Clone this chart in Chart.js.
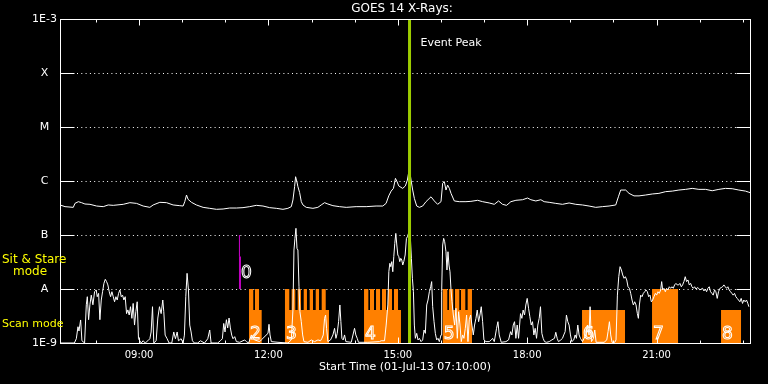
<!DOCTYPE html>
<html>
<head>
<meta charset="utf-8">
<title>GOES 14 X-Rays</title>
<script src="https://cdn.jsdelivr.net/npm/chart.js@4.4.1/dist/chart.umd.min.js"></script>
<style>
  html, body { margin: 0; padding: 0; background: #000; }
  canvas { display: block; }
</style>
</head>
<body>
<canvas id="goes" width="768" height="384"></canvas>
<script>
// Tiempos en minutos desde las 00:00 del 01-Jul-13, flujo en W/m^2
const xMin = 430;   // 07:10
const xMax = 1390;  // 23:10
const hourTicks = [480, 540, 600, 660, 720, 780, 840, 900, 960, 1020, 1080, 1140, 1200, 1260, 1320, 1380];
const xLabelTimes = [540, 720, 900, 1080, 1260];
const xLabelText = ['09:00', '12:00', '15:00', '18:00', '21:00'];
const yTickValues = [1e-9, 1e-8, 1e-7, 1e-6, 1e-5, 1e-4, 1e-3];
const yTickNames = ['1E-9', 'A', 'B', 'C', 'M', 'X', '1E-3'];

// Canal 1-8 A (curva de arriba)
const longTimes = [430, 437, 448.5, 450.8, 455.5, 460, 464.7, 471.7, 480.9, 490.2, 497.1, 504.1, 518, 527.2, 536.5,
  545.7, 555, 559.6, 568.9, 578.2, 587.4, 596.7, 601.3, 603.6, 606, 608.2, 612.9, 619.8, 629.1, 638.3, 647.6, 656.9,
  666.1, 675.4, 684.6, 693.9, 703.2, 712.4, 721.7, 730.9, 740.2, 747.1, 751.8, 754.1, 756.4, 757.8, 759.6, 761, 763.4,
  765.7, 768, 772.6, 781.9, 788.8, 793.4, 798.1, 802.7, 809.7, 818.9, 828.2, 842, 856, 869.8, 879.1, 883.7, 887.4,
  890.7, 893.9, 896.7, 899, 901.3, 906.8, 910.5, 913.3, 916.1, 918.4, 920.7, 923, 926.3, 930, 934.6, 939.2, 946.2,
  950.8, 955.4, 960.1, 962.4, 964.7, 967, 969.3, 971.7, 974, 978.6, 985.5, 994.8, 1001.7, 1011, 1018, 1027.2, 1034.2,
  1040.2, 1045.7, 1051.3, 1057.3, 1064.3, 1073.5, 1080.5, 1085.1, 1092, 1099, 1103.6, 1110.6, 1119.8, 1129.1, 1138.3,
  1147.6, 1156.9, 1166.1, 1175.4, 1184.6, 1193.9, 1203.2, 1206.9, 1210.1, 1217, 1221.7, 1228.6, 1235.6, 1244.8,
  1254.1, 1263.3, 1272.6, 1281.9, 1291.1, 1300.4, 1309.6, 1318.9, 1328.2, 1337.4, 1346.7, 1355.9, 1365.2, 1374.5,
  1383.7, 1388.3, 1390];
const longFlux = [3.6e-7, 3.35e-7, 3.25e-7, 3.85e-7, 4.14e-7, 3.97e-7, 3.75e-7, 3.7e-7, 3.44e-7, 3.35e-7, 3.6e-7, 3.54e-7,
  3.7e-7, 3.97e-7, 3.85e-7, 3.44e-7, 3.25e-7, 3.6e-7, 4.03e-7, 3.97e-7, 3.6e-7, 3.49e-7, 3.44e-7, 4.14e-7, 5.5e-7,
  4.57e-7, 4.03e-7, 3.6e-7, 3.25e-7, 3.12e-7, 2.99e-7, 3.03e-7, 3.16e-7, 3.16e-7, 3.21e-7, 3.35e-7, 3.54e-7, 3.44e-7,
  3.21e-7, 3.12e-7, 2.99e-7, 3.12e-7, 3.35e-7, 4.45e-7, 7.85e-7, 1.2e-6, 9.7e-7, 7.85e-7, 6.1e-7, 4.14e-7, 3.6e-7,
  3.25e-7, 3.12e-7, 3.25e-7, 3.6e-7, 3.97e-7, 3.75e-7, 3.49e-7, 3.35e-7, 3.25e-7, 3.35e-7, 3.35e-7, 3.44e-7, 3.44e-7,
  3.85e-7, 5.3e-7, 6.5e-7, 7.3e-7, 1.12e-6, 9.7e-7, 8.1e-7, 7.3e-7, 8.1e-7, 1.04e-6, 1.72e-6, 1.04e-6, 6.8e-7, 4.77e-7,
  3.44e-7, 3.25e-7, 3.44e-7, 4.14e-7, 5.1e-7, 4.27e-7, 3.7e-7, 4.14e-7, 9.1e-7, 9.7e-7, 6.8e-7, 8.4e-7, 7.3e-7, 5.9e-7,
  4.27e-7, 4.14e-7, 4.14e-7, 4.2e-7, 4.39e-7, 4.14e-7, 3.92e-7, 3.7e-7, 4.27e-7, 3.7e-7, 3.54e-7, 4.14e-7, 4.39e-7,
  4.5e-7, 4.84e-7, 4.5e-7, 4.27e-7, 4.5e-7, 4.14e-7, 4.03e-7, 3.85e-7, 3.7e-7, 3.92e-7, 3.7e-7, 3.6e-7, 3.44e-7,
  3.25e-7, 3.35e-7, 3.44e-7, 3.6e-7, 5.1e-7, 6.8e-7, 6.8e-7, 5.9e-7, 5.3e-7, 5.3e-7, 5.5e-7, 5.75e-7, 5.9e-7, 6.35e-7,
  6.5e-7, 6.8e-7, 7.0e-7, 7.3e-7, 7.0e-7, 7.0e-7, 6.6e-7, 7.0e-7, 7.3e-7, 7.2e-7, 6.8e-7, 6.5e-7, 6.2e-7, 6.1e-7];

// Canal 0.5-4 A (curva de abajo)
const shortTimes = [430, 450, 452.7, 455, 456.4, 458.7, 460.5, 464.2, 466.6, 468, 469.8, 471.6, 473.5, 475.8, 478.1,
  480.4, 481.8, 483.7, 485.5, 487.4, 489.2, 491.1, 493, 494.8, 496.6, 498.5, 500.4, 502.2, 504.1, 505.9, 507.8, 509.6,
  511.5, 513.3, 515.2, 517, 518.9, 520.7, 522.6, 524.4, 526.3, 528.1, 530, 531.8, 533.7, 535.5, 537.4, 539.2, 543,
  545.7, 548.5, 552.2, 555, 556.8, 558.7, 560.5, 563.8, 566.1, 568.4, 570.7, 573, 574.4, 576.3, 579, 581.8, 585.5,
  588.3, 590.6, 593, 594.8, 598.5, 601.3, 603.1, 605, 606.8, 608.7, 610.5, 612.4, 614.2, 617, 621.6, 625.4, 631, 635.6,
  638.3, 640.2, 649.4, 653.1, 655.9, 657.8, 659.6, 661.5, 663.3, 665.2, 667, 668.9, 670.7, 673.1, 675.4, 680, 687,
  689.3, 692.5, 696.2, 698.6, 700.9, 707.8, 710.1, 719.4, 720.8, 722.2, 724, 733.3, 747.2, 751.8, 754.1, 755.5, 756.9,
  758.3, 759.7, 761, 762.5, 763.8, 765.7, 767.6, 769.4, 775, 779.6, 784.2, 788.9, 792.5, 794.4, 796.3, 798.1, 799.5,
  800.9, 802.7, 806.4, 809.7, 812, 813.9, 815.7, 817.6, 819.4, 820.8, 822.2, 824, 825.9, 827.7, 835.2, 839.8, 841.6,
  843.5, 845.3, 858.3, 874.5, 876.8, 881.5, 883.8, 886.1, 887.5, 888.9, 890.2, 891.6, 893, 894.4, 895.8, 897.2, 898.6,
  900, 901.4, 902.7, 904.1, 905.5, 906.9, 908.3, 910.2, 912, 913.4, 916, 917.5, 918.9, 920.3, 921.7, 923, 924.4, 926.3,
  928.1, 930, 932.3, 934.6, 936.5, 938.3, 940.2, 942, 943.9, 945.7, 947.1, 948.5, 950.4, 952.2, 954.1, 955.9, 957.8,
  960.1, 961, 962.4, 963.8, 965.2, 967, 968.4, 969.8, 971.2, 972.6, 974, 975.4, 977.2, 979.1, 980.9, 982.8, 984.6,
  986.5, 988.3, 990.2, 992, 993.9, 995.7, 997.6, 999.4, 1001.3, 1003.1, 1005, 1006.8, 1008.7, 1010.5, 1012.4, 1014.3,
  1016.1, 1018, 1019.8, 1022.6, 1027.2, 1030, 1031.9, 1034.2, 1037.4, 1039.3, 1041.1, 1043.9, 1050.4, 1054.1, 1056.9,
  1058.7, 1060.6, 1062.4, 1064.3, 1066.1, 1068, 1070.7, 1072.6, 1074.4, 1076.3, 1078.1, 1080, 1081.9, 1083.7, 1085.6,
  1087.4, 1089.3, 1091.1, 1093, 1094.8, 1096.7, 1098.5, 1100.4, 1102.2, 1104.1, 1106.9, 1110.6, 1114.3, 1118, 1119.8,
  1121.7, 1123.5, 1126.8, 1129.1, 1130.9, 1132.8, 1134.6, 1136.5, 1138.3, 1140.2, 1142, 1144.8, 1146.7, 1148.5, 1150.4,
  1152.2, 1154.1, 1156.9, 1161.5, 1163.8, 1166.1, 1167.5, 1169.4, 1172.2, 1174, 1175.9, 1180, 1187, 1190.7, 1192.5,
  1194.4, 1196.2, 1198.1, 1201.8, 1203.6, 1205.5, 1207.4, 1209.2, 1211.1, 1212.9, 1214.8, 1216.6, 1218.5, 1220.3,
  1222.2, 1224, 1225.9, 1227.7, 1229.6, 1231.4, 1233.3, 1234.7, 1236.1, 1237.9, 1239.8, 1241.6, 1243.5, 1245.3, 1247.2,
  1249, 1250.9, 1252.7, 1254.6, 1256.4, 1258.3, 1260.1, 1262, 1263.8, 1265.7, 1267.1, 1268.5, 1270.3, 1272.2, 1274,
  1275.9, 1277.7, 1279.6, 1281.4, 1283.3, 1285.1, 1287, 1288.8, 1290.7, 1292.5, 1294.4, 1296.2, 1298.1, 1299.9, 1301.8,
  1303.7, 1305.5, 1307.4, 1309.2, 1311.1, 1312.9, 1314.8, 1316.6, 1318.5, 1320.3, 1322.2, 1324, 1325.9, 1327.7, 1329.6,
  1331.4, 1333.3, 1335.1, 1337, 1338.8, 1340.7, 1342.5, 1344.4, 1346.2, 1348.1, 1349.9, 1351.8, 1353.7, 1355.5, 1357.4,
  1359.2, 1361.1, 1362.9, 1364.8, 1366.6, 1368.5, 1370.3, 1372.2, 1374, 1375.9, 1377.7, 1379.6, 1381.4, 1383.3, 1385.1,
  1387, 1388.4];
const shortFlux = [1.0e-9, 1.0e-9, 1.2e-9, 2.0e-9, 1.67e-9, 2.67e-9, 1.1e-9, 1.0e-9, 5.1e-9, 7.2e-9, 2.7e-9, 5.1e-9,
  7.7e-9, 5.1e-9, 8.9e-9, 9.6e-9, 7.2e-9, 8.3e-9, 2.7e-9, 6.25e-9, 8.9e-9, 1.27e-8, 1.51e-8, 1.37e-8, 1.19e-8, 8.9e-9,
  7.2e-9, 8.9e-9, 7.2e-9, 5.8e-9, 7.2e-9, 6.25e-9, 8.3e-9, 9.6e-9, 7.2e-9, 7.7e-9, 6.25e-9, 7.2e-9, 3.5e-9, 4.1e-9,
  3.3e-9, 4.7e-9, 2.86e-9, 5.4e-9, 2.15e-9, 3.8e-9, 5.8e-9, 1.2e-9, 1.0e-9, 1.1e-9, 1.0e-9, 1.1e-9, 1.2e-9, 1.6e-9,
  4.7e-9, 1.0e-9, 1.1e-9, 2.9e-9, 4.7e-9, 3.5e-9, 6.25e-9, 3.8e-9, 1.4e-9, 1.2e-9, 1.0e-9, 1.0e-9, 1.6e-9, 1.2e-9,
  1.6e-9, 1.1e-9, 1.2e-9, 1.0e-9, 1.4e-9, 7.2e-9, 1.95e-8, 9.6e-9, 2.15e-9, 1.6e-9, 1.1e-9, 1.0e-9, 1.0e-9, 1.1e-9,
  1.0e-9, 1.2e-9, 1.74e-9, 1.0e-9, 1.0e-9, 1.1e-9, 1.2e-9, 2.3e-9, 1.6e-9, 2.7e-9, 1.9e-9, 2.9e-9, 1.9e-9, 1.4e-9,
  1.2e-9, 1.31e-9, 1.06e-9, 1.03e-9, 1.14e-9, 1.06e-9, 1.0e-9, 1.41e-9, 1.22e-9, 1.14e-9, 1.06e-9, 1.14e-9, 1.51e-9,
  2.22e-9, 1.41e-9, 1.06e-9, 1.03e-9, 1.0e-9, 1.14e-9, 4.08e-9, 5.27e-8, 8.67e-8, 1.33e-7, 5.66e-8, 5.27e-8, 1.1e-8,
  3.8e-9, 2.48e-9, 1.41e-9, 1.06e-9, 1.03e-9, 1.14e-9, 1.06e-9, 1.14e-9, 1.1e-9, 1.22e-9, 1.41e-9, 2.86e-9, 3.3e-9,
  1.87e-9, 1.06e-9, 1.14e-9, 1.41e-9, 1.87e-9, 1.22e-9, 1.51e-9, 2.48e-9, 5.06e-9, 2.48e-9, 1.22e-9, 1.14e-9, 1.41e-9,
  1.06e-9, 1.03e-9, 1.87e-9, 1.41e-9, 1.22e-9, 1.03e-9, 1.03e-9, 1.06e-9, 1.1e-9, 1.1e-9, 2.15e-9, 5.06e-9, 2.09e-8,
  2.99e-8, 2.59e-8, 3.21e-8, 2.09e-8, 3.97e-8, 7.0e-8, 1.07e-7, 6.53e-8, 4.26e-8, 3.97e-8, 3.21e-8, 3.7e-8, 3.44e-8,
  2.78e-8, 3.21e-8, 4.26e-8, 8.67e-8, 9.31e-8, 1.2e-7, 8.67e-8, 3.7e-8, 1.58e-8, 8.9e-9, 2.15e-9, 1.22e-9, 1.51e-9,
  1.14e-9, 1.22e-9, 1.06e-9, 1.14e-9, 1.74e-9, 1.51e-9, 5.06e-9, 6.25e-9, 8.9e-9, 1.1e-8, 1.37e-8, 4.7e-9, 2.48e-9,
  1.51e-9, 1.14e-9, 1.22e-9, 1.06e-9, 1.41e-9, 8.9e-9, 6.53e-8, 8.67e-8, 7.5e-8, 4.9e-8, 2.25e-8, 4.9e-8, 2.78e-8,
  2.09e-8, 9.6e-9, 5.8e-9, 3.3e-9, 2.15e-9, 4.4e-9, 1.22e-9, 3.8e-9, 2.15e-9, 1.06e-9, 1.41e-9, 1.22e-9, 1.87e-9,
  3.3e-9, 1.06e-9, 2.7e-9, 3.3e-9, 2.15e-9, 1.41e-9, 2.15e-9, 2.86e-9, 4.08e-9, 2.48e-9, 3.3e-9, 4.7e-9, 2.48e-9,
  1.14e-9, 1.06e-9, 1.06e-9, 1.14e-9, 1.22e-9, 1.06e-9, 1.87e-9, 2.48e-9, 1.41e-9, 1.03e-9, 1.06e-9, 1.14e-9, 1.62e-9,
  1.41e-9, 2.15e-9, 2.48e-9, 1.22e-9, 2.15e-9, 1.22e-9, 3.5e-9, 2.86e-9, 4.08e-9, 3.3e-9, 5.06e-9, 6.7e-9, 4.4e-9,
  3.07e-9, 2.15e-9, 2.48e-9, 1.41e-9, 1.87e-9, 1.22e-9, 2.15e-9, 2.86e-9, 4.7e-9, 1.51e-9, 1.22e-9, 1.06e-9, 1.03e-9,
  1.06e-9, 1.14e-9, 1.22e-9, 1.58e-9, 1.22e-9, 1.06e-9, 1.14e-9, 1.22e-9, 1.41e-9, 1.62e-9, 3.3e-9, 2.48e-9, 2.15e-9,
  1.41e-9, 1.06e-9, 1.14e-9, 1.41e-9, 1.22e-9, 2.15e-9, 1.41e-9, 1.22e-9, 1.06e-9, 1.41e-9, 2.15e-9, 1.41e-9, 4.7e-9,
  1.06e-9, 1.22e-9, 1.74e-9, 1.03e-9, 1.03e-9, 1.03e-9, 1.14e-9, 1.62e-9, 2.48e-9, 1.41e-9, 1.03e-9, 1.03e-9, 1.14e-9,
  7.7e-9, 1.69e-8, 2.59e-8, 2.25e-8, 1.82e-8, 1.58e-8, 1.69e-8, 1.47e-8, 1.1e-8, 1.03e-8, 8.3e-9, 6.25e-9, 5.06e-9,
  5.8e-9, 5.06e-9, 3.5e-9, 2.86e-9, 5.06e-9, 7.7e-9, 7.2e-9, 8.3e-9, 8.9e-9, 9.6e-9, 8.9e-9, 7.2e-9, 7.7e-9, 5.8e-9,
  6.25e-9, 7.2e-9, 8.3e-9, 7.7e-9, 8.9e-9, 8.3e-9, 9.6e-9, 1.37e-8, 9.6e-9, 1.03e-8, 8.9e-9, 1.03e-8, 9.6e-9, 1.1e-8,
  1.03e-8, 1.1e-8, 1.03e-8, 1.19e-8, 1.27e-8, 1.19e-8, 1.19e-8, 1.27e-8, 1.1e-8, 1.19e-8, 1.37e-8, 1.69e-8, 1.37e-8,
  1.47e-8, 1.19e-8, 1.27e-8, 1.1e-8, 1.03e-8, 1.1e-8, 1.0e-8, 1.06e-8, 1.03e-8, 9.6e-9, 1.0e-8, 1.03e-8, 9.2e-9,
  1.0e-8, 8.9e-9, 1.03e-8, 1.1e-8, 8.9e-9, 8.3e-9, 7.7e-9, 9.6e-9, 8.9e-9, 6.7e-9, 8.9e-9, 1.03e-8, 1.06e-8, 1.1e-8,
  1.19e-8, 1.1e-8, 1.03e-8, 1.1e-8, 9.6e-9, 8.9e-9, 8.3e-9, 7.7e-9, 8.3e-9, 7.2e-9, 6.7e-9, 6.25e-9, 5.8e-9, 6.7e-9,
  5.4e-9, 6.25e-9, 5.8e-9, 6.25e-9, 5.4e-9, 4.7e-9];

// Modo de observacion (barras naranjas): nivel alto = Sit & Stare, medio = scan
const scanTimes = [430, 693, 698.9, 701.3, 706.9, 710.6, 743, 749, 752.3, 757.4, 760.7, 765.3, 769.1, 773.6, 777.4,
  782, 785.8, 790.4, 794.1, 799.7, 804.3, 853, 859, 861.3, 866.9, 869.7, 875.3, 878, 883.6, 886.4, 891.9, 894.7, 900.3,
  904.4, 962.5, 968.9, 971.2, 977.2, 979.6, 985.5, 987.9, 993.9, 997.2, 1003.2, 1156.3, 1216.1, 1253.7, 1289.9,
  1349.7, 1377.5, 1390];
const scanLevels = [1e-9, 1e-8, 4.1e-9, 1e-8, 4.1e-9, 1e-9, 1e-8, 4.1e-9, 1e-8, 4.1e-9, 1e-8, 4.1e-9, 1e-8, 4.1e-9,
  1e-8, 4.1e-9, 1e-8, 4.1e-9, 1e-8, 4.1e-9, 1e-9, 1e-8, 4.1e-9, 1e-8, 4.1e-9, 1e-8, 4.1e-9, 1e-8, 4.1e-9, 1e-8, 4.1e-9,
  1e-8, 4.1e-9, 1e-9, 1e-8, 4.1e-9, 1e-8, 4.1e-9, 1e-8, 4.1e-9, 1e-8, 4.1e-9, 1e-8, 1e-9, 4.1e-9, 1e-9, 1e-8, 1e-9,
  4.1e-9, 1e-9, 1e-9];
const blockStarts = [693, 743, 853, 962.5, 1156.3, 1253.7, 1349.7];
const blockNames = ['2', '3', '4', '5', '6', '7', '8'];

const eventTime = 916.3;   // Event Peak
const stareThinTime = 679.7;
const stareThickTime = 680.4;
const stareThin = [1e-7, 4e-8];
const stareThick = [4e-8, 1e-8];

const pts = (ts, vs) => ts.map((t, i) => ({ x: t, y: vs[i] }));

const decor = {
  id: 'decor',
  beforeDatasetsDraw(chart) {
    const { ctx, chartArea: a, scales: { y } } = chart;
    ctx.save();
    ctx.strokeStyle = '#ffffff';
    ctx.lineWidth = 1;
    ctx.setLineDash([1, 3.3]);
    yTickValues.slice(1, -1).forEach(v => {
      const py = Math.round(y.getPixelForValue(v)) + 0.5;
      ctx.beginPath();
      ctx.moveTo(a.left + 17, py);
      ctx.lineTo(a.right - 14, py);
      ctx.stroke();
    });
    ctx.restore();
  },
  afterDatasetsDraw(chart) {
    const { ctx, chartArea: a, scales: { x, y } } = chart;
    const L = Math.round(a.left) + 0.5, R = Math.round(a.right) + 0.5;
    const T = Math.round(a.top) + 0.5, B = Math.round(a.bottom) + 0.5;
    ctx.save();
    ctx.strokeStyle = '#ffffff';
    ctx.lineWidth = 1;
    ctx.strokeRect(L, T, R - L, B - T);
    ctx.beginPath();
    yTickValues.forEach(v => {
      const py = Math.round(y.getPixelForValue(v)) + 0.5;
      ctx.moveTo(L, py); ctx.lineTo(L + 14, py);
      ctx.moveTo(R - 14, py); ctx.lineTo(R, py);
    });
    hourTicks.forEach(m => {
      const px = Math.round(x.getPixelForValue(m)) + 0.5;
      const len = xLabelTimes.includes(m) ? 6 : 3;
      ctx.moveTo(px, T); ctx.lineTo(px, T + len);
      ctx.moveTo(px, B); ctx.lineTo(px, B - len);
    });
    ctx.stroke();

    // titulo
    ctx.fillStyle = '#ffffff';
    ctx.textBaseline = 'middle';
    ctx.textAlign = 'center';
    ctx.font = '12px "DejaVu Sans"';
    ctx.fillText('GOES 14 X-Rays:', (a.left + a.right) / 2 - 3, 9);

    ctx.textAlign = 'left';
    ctx.font = '11px "DejaVu Sans"';
    ctx.fillText('Event Peak', x.getPixelForValue(eventTime) + 11, a.top + 24);

    // textos amarillos
    ctx.fillStyle = '#ffff00';
    ctx.textBaseline = 'alphabetic';
    ctx.font = '12px "DejaVu Sans"';
    ctx.fillText('Sit & Stare', 2, 263);
    ctx.fillText('mode', 13, 275);
    ctx.font = '11px "DejaVu Sans"';
    ctx.fillText('Scan mode', 2, 327);

    // numeros de los bloques
    ctx.strokeStyle = '#ffffff';
    ctx.font = '17px "DejaVu Sans"';
    blockStarts.forEach((t, i) => {
      ctx.strokeText(blockNames[i], x.getPixelForValue(t) + 1, a.bottom - 4);
    });
    ctx.strokeText('0', x.getPixelForValue(stareThickTime) + 1, y.getPixelForValue(1e-8) - 11);
    ctx.restore();
  }
};

new Chart(document.getElementById('goes'), {
  type: 'line',
  data: {
    datasets: [
      {
        data: pts(scanTimes, scanLevels),
        stepped: 'before',
        borderWidth: 0,
        borderColor: 'rgba(0,0,0,0)',
        backgroundColor: '#ff8000',
        fill: 'start',
        order: 5
      },
      { data: pts(longTimes, longFlux), borderColor: '#ffffff', borderWidth: 1, order: 2 },
      { data: pts(shortTimes, shortFlux), borderColor: '#ffffff', borderWidth: 1, order: 2 },
      { data: pts([stareThinTime, stareThinTime], stareThin), borderColor: '#c000c0', borderWidth: 1, order: 1 },
      { data: pts([stareThickTime, stareThickTime], stareThick), borderColor: '#c000c0', borderWidth: 2, order: 1 },
      { data: pts([eventTime, eventTime], [1e-9, 1e-3]), borderColor: '#9ccc00', borderWidth: 3, order: 0 }
    ]
  },
  options: {
    responsive: false,
    animation: false,
    devicePixelRatio: 1,
    events: [],
    layout: { padding: { top: 19, right: 18, left: 0, bottom: 0 } },
    elements: { point: { radius: 0 }, line: { tension: 0 } },
    plugins: {
      legend: { display: false },
      tooltip: { enabled: false },
      title: { display: false }
    },
    scales: {
      x: {
        type: 'linear',
        min: xMin,
        max: xMax,
        grid: { display: false, drawTicks: false },
        border: { display: false },
        afterBuildTicks: s => { s.ticks = hourTicks.map(v => ({ value: v })); },
        ticks: {
          color: '#ffffff',
          font: { family: 'DejaVu Sans', size: 10 },
          padding: 6,
          maxRotation: 0,
          autoSkip: false,
          callback: v => {
            const i = xLabelTimes.indexOf(v);
            return i >= 0 ? xLabelText[i] : '';
          }
        },
        title: {
          display: true,
          text: 'Start Time (01-Jul-13 07:10:00)',
          color: '#ffffff',
          font: { family: 'DejaVu Sans', size: 11 },
          padding: { top: 0, bottom: 10 }
        },
        afterFit: s => { s.height = 41; }
      },
      y: {
        type: 'logarithmic',
        min: 1e-9,
        max: 1e-3,
        grid: { display: false, drawTicks: false },
        border: { display: false },
        afterBuildTicks: s => { s.ticks = yTickValues.map(v => ({ value: v })); },
        ticks: {
          color: '#ffffff',
          font: { family: 'DejaVu Sans', size: 11 },
          padding: 3,
          crossAlign: 'center',
          autoSkip: false,
          callback: (v, i) => yTickNames[i]
        },
        afterFit: s => { s.width = 60; }
      }
    }
  },
  plugins: [decor]
});
</script>
</body>
</html>
